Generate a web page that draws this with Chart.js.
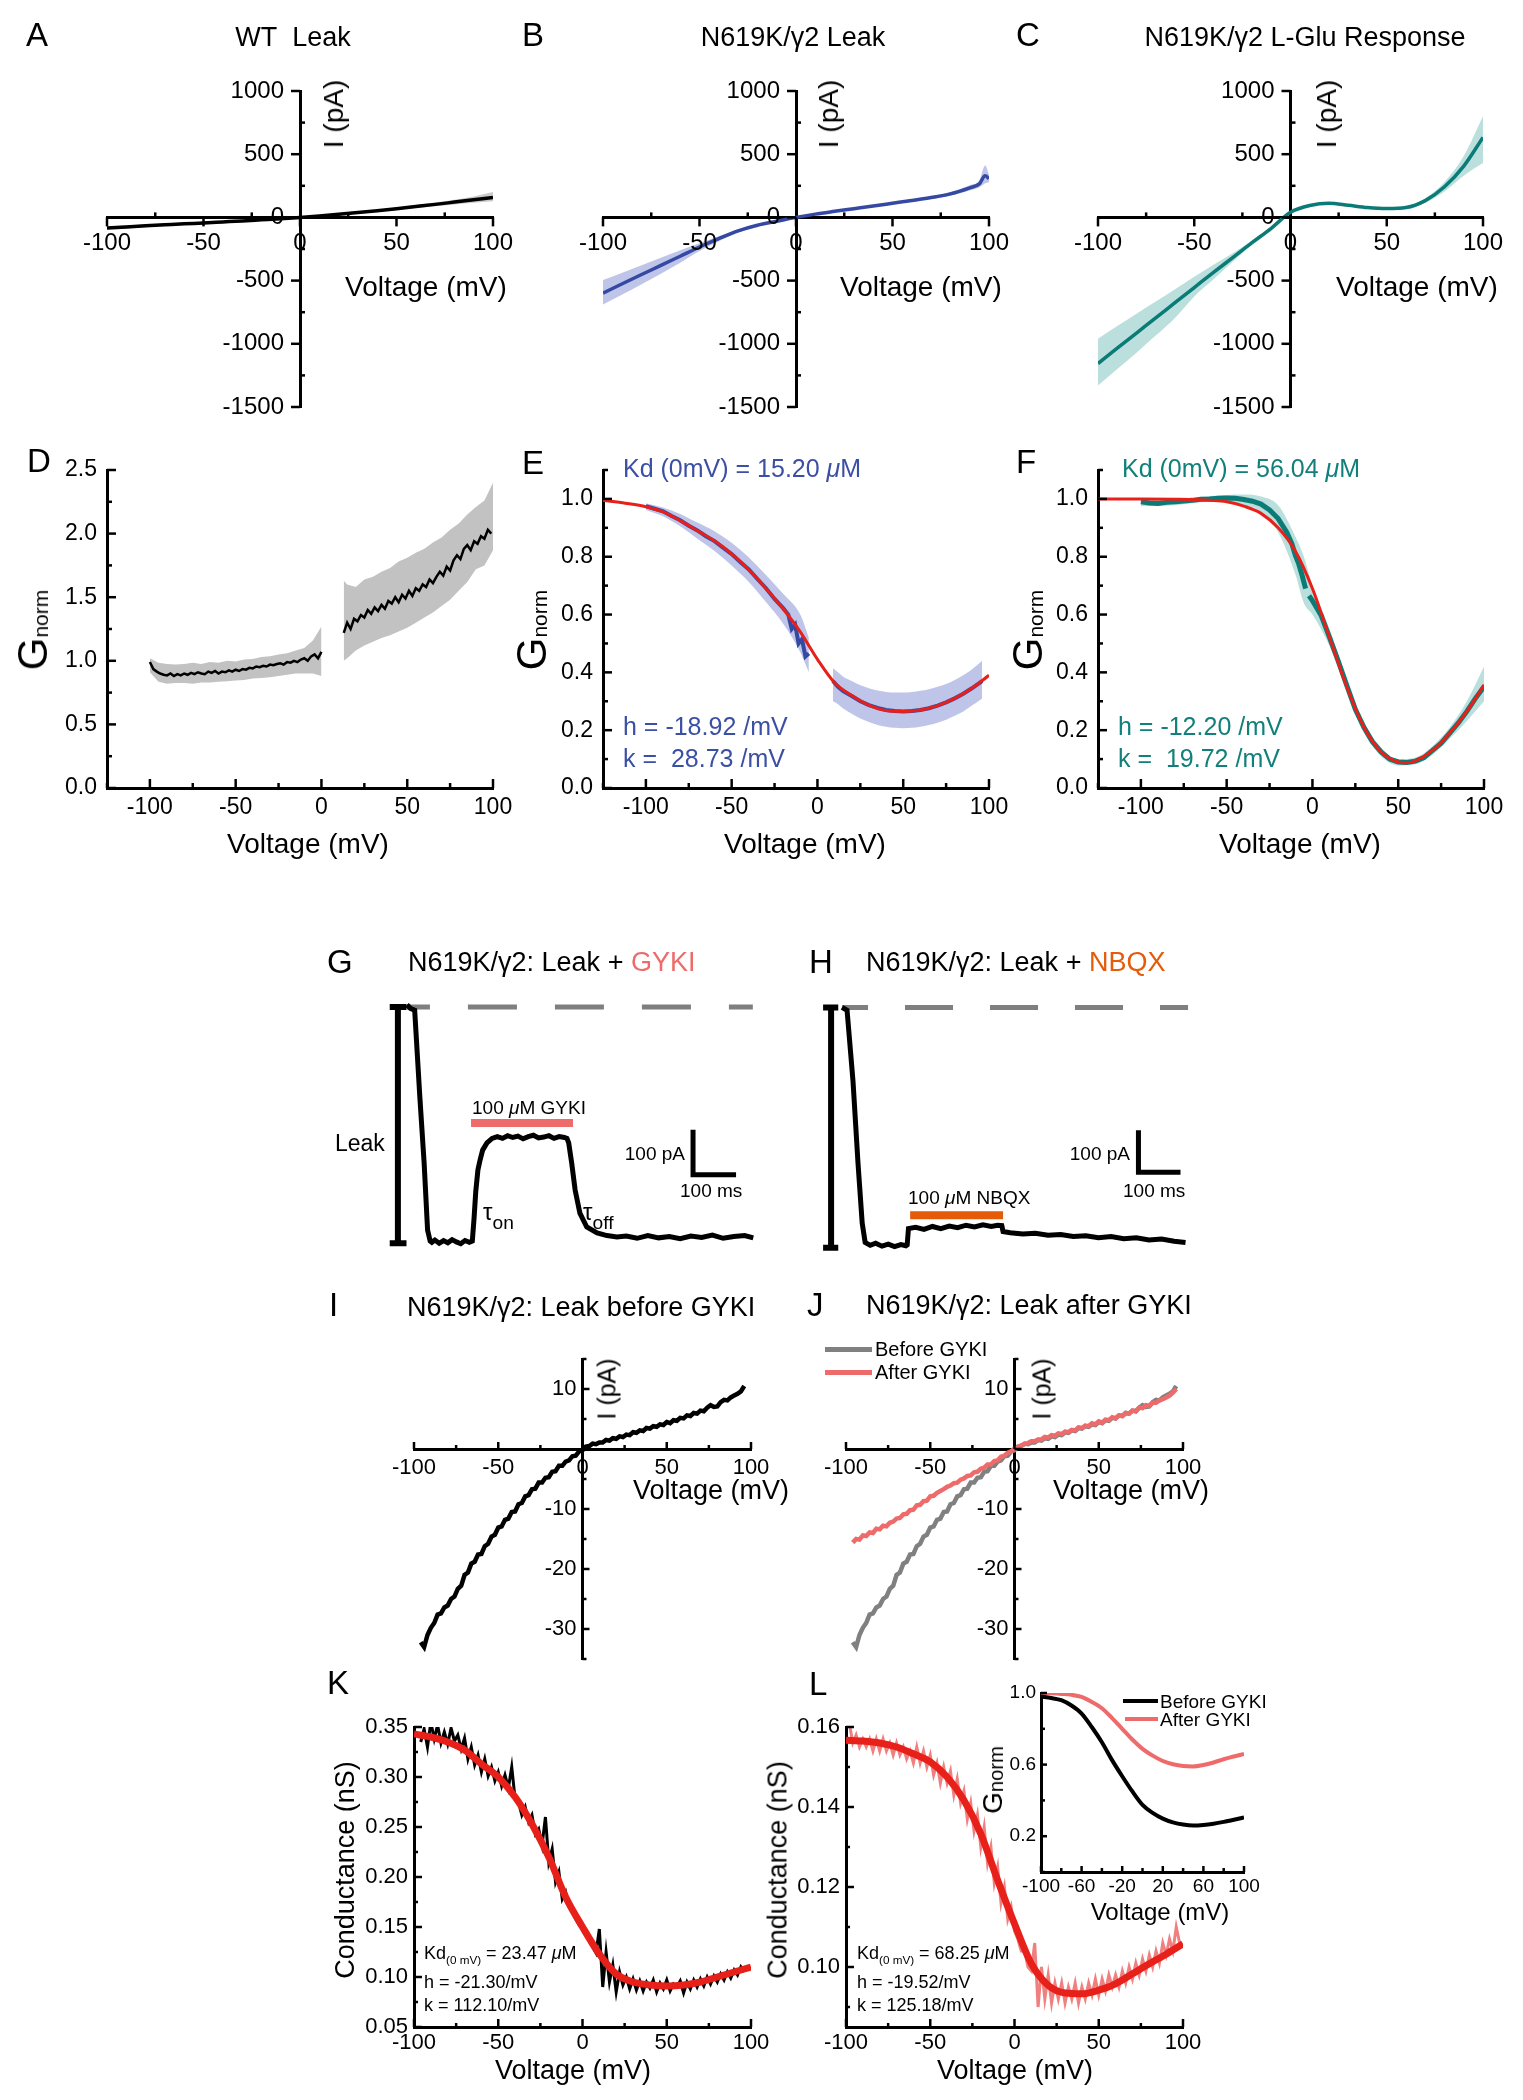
<!DOCTYPE html>
<html>
<head>
<meta charset="utf-8">
<title>N619K leak figure</title>
<script src="https://cdn.jsdelivr.net/npm/chart.js@4.4.1/dist/chart.umd.min.js"></script>
<style>
body { margin: 0; background: #fff; }
#page { position: relative; width: 1523px; height: 2100px; overflow: hidden;
  font-family: "Liberation Sans", Arial, Helvetica, sans-serif; color: #000; }
#page canvas { position: absolute; }
.lbl { position: absolute; white-space: nowrap; line-height: 1; }
.lbl sub { font-size: 0.62em; vertical-align: -0.35em; line-height: 0; }
.key { position: absolute; }
</style>
</head>
<body>
<div id="page"></div>
<script>
const FONT = '"Liberation Sans", Arial, Helvetica, sans-serif';

// voltage grid helper (sample positions only)
function steps(a, b, s) { const r = []; for (let v = a; v <= b + 1e-9; v += s) r.push(v); return r; }

// ---------- A / B / C : I-V relations (pA) ----------
const ivV = [-100,-90,-80,-70,-60,-50,-40,-30,-20,-10,0,10,20,30,40,50,60,70,80,90,100];
const aMean = [-83,-75,-67,-59,-51,-44,-36,-28,-19,-10,0,11,24,38,53,69,86,103,121,139,158];
const aHi = [-70,-63,-56,-49,-42,-36,-29,-21,-13,-6,3,15,29,44,60,79,98,118,140,165,200];
const aLo = [-96,-87,-78,-69,-60,-52,-43,-35,-25,-14,-3,7,19,32,46,59,74,88,102,116,128];

const bV = [-100,-90,-80,-70,-60,-50,-40,-30,-20,-10,0,10,20,30,40,50,60,70,80,90,95,98,100];
const bMean = [-599,-525,-452,-380,-307,-234,-168,-107,-62,-31,0,26,48,69,90,112,134,157,186,234,265,330,307];
const bHi = [-495,-437,-378,-320,-260,-204,-150,-96,-55,-26,4,31,53,75,97,120,143,168,200,255,292,410,340];
const bLo = [-690,-610,-528,-445,-358,-266,-188,-120,-70,-36,-4,21,43,63,83,104,125,146,172,212,238,270,278];

const cMean = [-1156,-1035,-915,-795,-675,-555,-435,-318,-200,-86,40,94,112,96,78,70,78,133,242,406,633];
const cHi = [-960,-860,-762,-665,-568,-470,-375,-283,-185,-78,46,100,119,103,85,77,87,150,280,485,800];
const cLo = [-1330,-1200,-1070,-935,-795,-625,-490,-350,-215,-94,34,88,105,89,71,63,69,116,205,330,430];

// ---------- D : WT normalised conductance ----------
const dLV = steps(-100, 0, 2);
const dL = [0.99,0.935,0.915,0.9,0.89,0.885,0.9,0.88,0.895,0.885,0.9,0.89,0.905,0.895,0.91,0.9,0.895,0.915,0.905,0.92,
  0.9,0.915,0.91,0.925,0.915,0.93,0.92,0.935,0.93,0.945,0.94,0.955,0.95,0.96,0.955,0.97,0.965,0.975,0.98,0.97,
  0.99,0.985,1.0,0.99,1.01,1.02,1.0,1.035,1.05,1.02,1.07];
const dRV = steps(13, 99, 2);
const dR = [1.22,1.3,1.25,1.33,1.31,1.36,1.34,1.4,1.37,1.42,1.39,1.44,1.41,1.47,1.45,1.5,1.46,1.52,1.49,1.55,
  1.51,1.57,1.55,1.6,1.58,1.64,1.61,1.66,1.7,1.67,1.74,1.71,1.79,1.83,1.8,1.88,1.91,1.87,1.94,1.92,1.98,1.96,2.03,2.0];
const dBLV = steps(-100, 0, 5);
const dBLHi = [1.02,0.985,0.975,0.97,0.975,0.985,0.975,0.99,0.985,1.0,0.995,1.01,1.015,1.03,1.035,1.05,1.06,1.08,1.1,1.16,1.27];
const dBLLo = [0.91,0.835,0.82,0.825,0.825,0.82,0.83,0.83,0.835,0.84,0.845,0.85,0.86,0.865,0.87,0.88,0.89,0.9,0.9,0.9,0.88];
const dBRV = [13,15,20,25,30,35,40,45,50,55,60,65,70,75,80,85,90,95,100];
const dBRHi = [1.63,1.6,1.58,1.64,1.66,1.7,1.73,1.78,1.81,1.85,1.88,1.93,1.97,2.03,2.08,2.15,2.21,2.26,2.4];
const dBRLo = [1.0,1.02,1.08,1.12,1.15,1.18,1.2,1.23,1.26,1.3,1.34,1.38,1.43,1.48,1.55,1.62,1.72,1.75,1.87];

// ---------- E : N619K leak Gnorm ----------
const eFV = [-125,-112,-100,-90,-80,-70,-60,-50,-40,-30,-20,-10,0,10,20,30,40,50,60,70,80,90,100];
const eFit = [0.995,0.985,0.973,0.955,0.925,0.89,0.855,0.81,0.755,0.69,0.62,0.54,0.445,0.364,0.32,0.287,0.268,0.265,0.27,0.285,0.31,0.345,0.39];
const eDV1 = [-100,-95,-90,-85,-80,-75,-70,-65,-60,-55,-50,-45,-40,-35,-30,-25,-20,-17,-15,-13,-11,-9,-7,-5];
const eD1 = [0.975,0.966,0.957,0.941,0.926,0.907,0.891,0.871,0.854,0.831,0.809,0.782,0.756,0.723,0.691,0.654,0.622,0.6,0.55,0.565,0.5,0.515,0.455,0.465];
const eBV1 = [-100,-90,-80,-70,-60,-50,-40,-30,-20,-10,-5];
const eBHi1 = [0.985,0.97,0.948,0.918,0.888,0.848,0.797,0.737,0.672,0.6,0.52];
const eBLo1 = [0.962,0.94,0.905,0.862,0.82,0.77,0.713,0.643,0.568,0.47,0.4];
const eDV2 = [9,12,15,20,25,30,35,40,45,50,55,60,65,70,75,80,85,90,96];
const eD2 = [0.37,0.35,0.335,0.318,0.3,0.287,0.277,0.27,0.266,0.265,0.266,0.27,0.276,0.285,0.296,0.31,0.326,0.345,0.37];
const eBHi2 = [0.415,0.4,0.385,0.37,0.355,0.345,0.337,0.332,0.33,0.33,0.332,0.336,0.342,0.35,0.36,0.374,0.39,0.41,0.44];
const eBLo2 = [0.3,0.29,0.275,0.257,0.24,0.228,0.218,0.212,0.208,0.207,0.208,0.212,0.218,0.226,0.236,0.25,0.265,0.285,0.31];

// ---------- F : L-Glu response Gnorm ----------
const fFV = [-125,-100,-80,-70,-60,-50,-40,-30,-20,-10,0,10,20,30,40,50,55,60,70,80,90,100];
const fFit = [1.0,1.0,0.999,0.998,0.995,0.99,0.975,0.95,0.9,0.82,0.69,0.52,0.35,0.21,0.125,0.09,0.087,0.094,0.13,0.19,0.265,0.357];
const fDV = [-100,-95,-90,-85,-80,-75,-70,-65,-60,-55,-50,-45,-40,-35,-30,-25,-20,-15,-12,-10,-8,-6,-4,-3,-2,
  0,2,5,10,15,20,25,30,35,40,45,50,55,60,65,70,75,80,85,90,95,100];
const fD = [0.99,0.986,0.984,0.988,0.99,0.993,0.995,0.999,1.0,1.002,1.003,1.002,0.998,0.992,0.982,0.962,0.932,0.885,0.845,0.805,
  0.775,0.735,0.69,null,0.665,0.648,0.628,0.598,0.52,0.44,0.355,0.272,0.21,0.16,0.125,0.1,0.09,0.088,0.093,0.105,
  0.13,0.155,0.19,0.225,0.265,0.31,0.35];
const fBV = [-100,-80,-60,-40,-30,-20,-10,-5,0,10,20,30,40,50,60,70,80,90,100];
const fBHi = [1.0,1.0,1.01,1.015,1.008,0.978,0.87,0.8,0.7,0.55,0.375,0.228,0.14,0.1,0.105,0.145,0.21,0.3,0.42];
const fBLo = [0.975,0.978,0.99,0.978,0.956,0.885,0.74,0.64,0.6,0.49,0.335,0.192,0.11,0.078,0.082,0.115,0.17,0.232,0.3];

// ---------- G / H : current traces (ms, pA) ----------
const gT = [0,8,18,30,40,48,54,58,65,75,85,95,105,115,125,135,145,152,156,160,165,170,176,186,198,210,222,234,246,258,
  270,282,294,306,318,330,342,354,366,372,376,383,391,402,418,442,465,488,510,535,560,585,610,635,660,685,710,735,760,785,805];
const gI = [5,-3,-7,-200,-347,-496,-520,-523,-518,-525,-519,-524,-517,-522,-526,-519,-523,-520,-470,-410,
  -362,-340,-318,-302,-292,-288,-292,-286,-290,-287,-293,-288,-285,-291,-289,-286,-292,-288,-290,-292,
  -302,-347,-407,-458,-489,-502,-508,-511,-509,-514,-508,-513,-510,-515,-509,-512,-507,-514,-510,-508,-513];
const hT = [0,12,26,38,48,55,67,80,95,110,125,140,152,155,158,175,195,215,235,255,275,295,315,335,355,370,380,383,400,430,
  460,490,520,550,580,610,640,670,700,730,760,790,817];
const hI = [0,-7,-174,-371,-514,-560,-567,-562,-569,-564,-570,-565,-568,-566,-527,-524,-529,-522,-527,-521,
  -525,-519,-523,-518,-522,-519,-520,-534,-537,-540,-538,-543,-541,-546,-544,-549,-546,-551,-549,-554,-552,-557,-560];

// ---------- I / J : single-cell I-V (pA) ----------
const iV = steps(-96, 96, 2);
const iI = [-32.2,-33.0,-31.0,-29.8,-29.0,-27.6,-27.4,-26.4,-26.1,-25.0,
  -24.6,-23.3,-22.8,-21.0,-20.6,-19.1,-18.8,-17.6,-17.5,-16.2,
  -15.8,-14.6,-14.3,-13.1,-12.9,-11.8,-11.6,-10.5,-10.4,-9.2,
  -9.0,-7.9,-7.7,-6.7,-6.6,-5.6,-5.6,-4.8,-4.7,-3.8,
  -3.7,-2.8,-2.8,-2.1,-1.9,-1.2,-1.1,-0.4,-0.2,0.4,
  0.5,0.9,0.8,1.1,1.1,1.5,1.4,1.8,1.7,2.1,
  2.0,2.4,2.3,2.8,2.7,3.1,3.0,3.5,3.4,3.8,
  3.7,4.1,4.0,4.5,4.3,4.8,4.7,5.2,5.1,5.6,
  5.5,6.0,5.9,6.4,6.3,6.9,7.3,7.0,7.1,7.8,
  8.2,8.1,8.6,8.9,9.2,9.6,10.5];
const jA = [-15.6,-15.0,-15.1,-14.4,-14.5,-13.9,-14.0,-13.3,-13.4,-12.8,
  -12.9,-12.3,-12.1,-11.6,-11.5,-10.9,-10.8,-10.2,-10.1,-9.4,
  -9.3,-8.7,-8.6,-7.9,-7.8,-7.3,-7.0,-6.7,-6.3,-6.1,
  -5.7,-5.6,-5.1,-4.9,-4.5,-4.4,-3.9,-3.8,-3.3,-3.1,
  -2.6,-2.6,-2.0,-1.9,-1.3,-1.1,-0.6,-0.4,0.1,0.3,
  0.6,0.8,1.0,1.3,1.3,1.6,1.6,2.0,1.9,2.3,
  2.2,2.6,2.5,2.9,2.8,3.2,3.1,3.6,3.5,3.9,
  3.8,4.3,4.1,4.6,4.4,4.9,4.8,5.3,5.1,5.6,
  5.5,6.0,5.9,6.4,6.3,6.9,6.8,7.3,7.2,7.7,
  7.7,8.1,8.3,8.6,8.9,9.4,10.0];

// ---------- K / L : conductance (nS) ----------
const kV = steps(-96, 96, 2);
const kD = [0.335,0.348,0.33,0.355,0.338,0.352,0.334,0.345,0.333,0.349,
  0.336,0.342,0.328,0.339,0.318,0.33,0.312,0.322,0.305,0.318,
  0.301,0.31,0.296,0.305,0.291,0.302,0.289,0.31,0.278,0.275,
  0.262,0.27,0.255,0.262,0.243,0.248,0.232,0.26,0.215,0.228,
  0.195,0.205,0.178,0.185,0.17,0.165,0.158,0.152,0.148,0.142,
  0.136,0.13,0.124,0.148,0.09,0.125,0.095,0.112,0.085,0.105,
  0.092,0.1,0.088,0.098,0.087,0.096,0.086,0.095,0.089,0.097,
  0.085,0.094,0.088,0.097,0.086,0.093,0.09,0.096,0.084,0.095,
  0.088,0.097,0.09,0.098,0.091,0.1,0.093,0.101,0.095,0.103,
  0.097,0.105,0.099,0.107,0.102,0.11,0.105];
const kFit = [0.343,0.34,0.335,0.327,0.313,0.3,0.28,0.253,0.22,0.18,0.15,0.123,0.103,0.095,0.092,0.091,0.092,0.095,0.1,0.105,0.11];
const lV = steps(-98, 98, 2);
const lD = [0.161,0.156,0.158,0.155,0.157,0.155,0.157,0.154,0.157,0.154,
  0.157,0.154,0.156,0.153,0.156,0.153,0.155,0.152,0.154,0.151,
  0.155,0.151,0.154,0.15,0.153,0.148,0.151,0.146,0.15,0.146,
  0.149,0.143,0.147,0.141,0.144,0.137,0.141,0.134,0.138,0.13,
  0.135,0.126,0.13,0.121,0.125,0.116,0.12,0.112,0.115,0.109,
  0.107,0.104,0.104,0.1,0.099,0.106,0.09,0.1,0.092,0.098,
  0.091,0.096,0.092,0.096,0.091,0.095,0.092,0.096,0.091,0.095,
  0.092,0.096,0.093,0.097,0.093,0.097,0.094,0.098,0.095,0.098,
  0.095,0.099,0.096,0.1,0.097,0.101,0.098,0.102,0.099,0.103,
  0.1,0.104,0.101,0.106,0.103,0.107,0.104,0.11,0.106];
const lFit = [0.1567,0.1565,0.156,0.155,0.1533,0.1513,0.1475,0.1417,0.1333,0.1217,0.1108,0.1008,0.0954,0.0935,0.0933,0.0942,0.0958,0.0983,0.1008,0.1032,0.1058];
const insBefore = [0.98,0.972,0.96,0.93,0.885,0.81,0.725,0.625,0.535,0.45,0.375,0.33,0.298,0.277,0.265,0.26,0.263,0.27,0.28,0.292,0.305];
const insAfter = [1.0,0.998,0.995,0.99,0.978,0.95,0.915,0.86,0.8,0.74,0.688,0.65,0.62,0.602,0.592,0.59,0.598,0.612,0.63,0.645,0.66];

// ---------- tick values ----------
const vTicks = [-100,-50,0,50,100];
const ivTicks = [-1500,-1000,-500,0,500,1000];
const dTicks = [0,0.5,1,1.5,2,2.5];
const gnTicks = [0,0.2,0.4,0.6,0.8,1];
const ijTicks = [-30,-20,-10,0,10];
const kTicks = [0.05,0.1,0.15,0.2,0.25,0.3,0.35];
const lTicks = [0.1,0.12,0.14,0.16];
const insXTicks = [-100,-60,-20,20,60,100];
const insYTicks = [0.2,0.6,1];

// colours
const BLUE = '#3549A4', BLUE_BAND = 'rgba(70,88,190,0.35)';
const TEAL = '#0B7B77', TEAL_BAND = 'rgba(25,150,140,0.3)';
const RED = '#E8201A', SALMON = '#EE6B6B', SALMON2 = '#F08080', NBQX = '#E45C0A';

const page = document.getElementById('page');

function txt(x, y, html, size, align, o) {
  o = o || {};
  const d = document.createElement('div');
  d.className = 'lbl';
  d.innerHTML = html;
  d.style.left = x + 'px';
  d.style.top = y + 'px';
  d.style.fontSize = size + 'px';
  if (o.color) d.style.color = o.color;
  const ax = align === 'center' ? '-50%' : align === 'right' ? '-100%' : '0';
  d.style.transform = 'translate(' + ax + ',-50%)' + (o.rot ? ' rotate(-90deg)' : '');
  page.appendChild(d);
}
function key(x1, x2, y, color, w) {
  const d = document.createElement('div');
  d.className = 'key';
  d.style.left = x1 + 'px';
  d.style.top = (y - w / 2) + 'px';
  d.style.width = (x2 - x1) + 'px';
  d.style.height = w + 'px';
  d.style.background = color;
  page.appendChild(d);
}

const pts = (xs, ys) => xs.map((x, i) => ({x: x, y: ys[i]}));
function line(xs, ys, color, width, extra) {
  return Object.assign({data: pts(xs, ys), borderColor: color, borderWidth: width, pointRadius: 0,
    fill: false, tension: 0, spanGaps: false}, extra || {});
}
const smooth = {cubicInterpolationMode: 'monotone'};
function band(xs, hi, lo, color, sm) {
  const c = {pointRadius: 0, borderWidth: 0, borderColor: 'rgba(0,0,0,0)', tension: 0};
  if (sm) c.cubicInterpolationMode = 'monotone';
  return [Object.assign({data: pts(xs, hi), fill: '+1', backgroundColor: color}, c),
          Object.assign({data: pts(xs, lo), fill: false}, c)];
}

// ticks (major + minor) and tick labels drawn on the library's scales
function tickPlugin(ax) {
  return {
    id: 'ticks2',
    afterDraw(chart) {
      const ctx = chart.ctx, ca = chart.chartArea;
      ['x', 'y'].forEach(k => {
        const a = ax[k], s = chart.scales[k], hz = k === 'x';
        const other = hz ? chart.scales.y : chart.scales.x;
        const base = a.at != null ? other.getPixelForValue(a.at) : (hz ? ca.bottom : ca.left);
        const step = a.ticks[1] - a.ticks[0];
        const minors = [];
        for (let v = a.ticks[0] - step / 2; v <= s.max + 1e-9; v += step) {
          if (v >= s.min - 1e-9) minors.push(v);
        }
        ctx.save();
        ctx.strokeStyle = '#000';
        ctx.lineWidth = 2.5;
        const mark = (v, len, dir) => {
          const p = s.getPixelForValue(v);
          ctx.beginPath();
          if (hz) { ctx.moveTo(p, base); ctx.lineTo(p, base + dir * len); }
          else { ctx.moveTo(base, p); ctx.lineTo(base - dir * len, p); }
          ctx.stroke();
        };
        minors.forEach(v => mark(v, a.minor[0], a.minor[1]));
        a.ticks.forEach(v => mark(v, a.major[0], a.major[1]));
        ctx.fillStyle = '#000';
        ctx.font = a.size + 'px ' + FONT;
        ctx.textBaseline = 'middle';
        ctx.textAlign = hz ? 'center' : 'right';
        a.ticks.forEach(v => {
          if (a.skip && a.skip.includes(v)) return;
          const p = s.getPixelForValue(v);
          const t = v.toFixed(a.dec || 0);
          if (hz) ctx.fillText(t, p, base + a.off);
          else ctx.fillText(t, base - a.off, p);
        });
        ctx.restore();
      });
    }
  };
}

function mkChart(area, xr, yr, datasets, ax) {
  const M = 70;
  const c = document.createElement('canvas');
  c.width = area[2] - area[0] + 2 * M;
  c.height = area[3] - area[1] + 2 * M;
  c.style.left = (area[0] - M) + 'px';
  c.style.top = (area[1] - M) + 'px';
  page.appendChild(c);
  const sc = (r, pos) => ({
    type: 'linear', min: r[0], max: r[1], position: pos, display: !!ax,
    ticks: {display: false}, grid: {display: false, drawTicks: false},
    border: {display: true, width: 3, color: '#000'}
  });
  return new Chart(c, {
    type: 'line',
    data: {datasets: datasets},
    options: {
      responsive: false, animation: false, events: [], devicePixelRatio: 1,
      layout: {padding: M},
      plugins: {legend: {display: false}, tooltip: {enabled: false}},
      scales: {
        x: sc(xr, ax && ax.x.at != null ? {y: ax.x.at} : 'bottom'),
        y: sc(yr, ax && ax.y.at != null ? {x: ax.y.at} : 'left')
      }
    },
    plugins: ax ? [tickPlugin(ax)] : []
  });
}

// ---------- axis specs ----------
const axIV = {
  x: {at: 0, ticks: vTicks, major: [9, 1], minor: [5, -1], size: 24, off: 26, dec: 0},
  y: {at: 0, ticks: ivTicks, major: [9, 1], minor: [5, -1], size: 24, off: 16, dec: 0}
};
const axGn = yt => ({
  x: {at: null, ticks: vTicks, major: [9, -1], minor: [5, -1], size: 23, off: 20, dec: 0},
  y: {at: null, ticks: yt, major: [9, -1], minor: [5, -1], size: 23, off: 10, dec: 1}
});
const axIJ = {
  x: {at: 0, ticks: vTicks, major: [7, -1], minor: [4, -1], size: 22, off: 19, dec: 0},
  y: {at: 0, ticks: ijTicks, major: [7, -1], minor: [4, -1], size: 22, off: 6, dec: 0, skip: [0]}
};
const axG = yt => ({
  x: {at: null, ticks: vTicks, major: [8, -1], minor: [4, -1], size: 22, off: 16, dec: 0},
  y: {at: null, ticks: yt, major: [8, -1], minor: [4, -1], size: 22, off: 6, dec: 2}
});
const axIns = {
  x: {at: null, ticks: insXTicks, major: [6, -1], minor: [4, -1], size: 19, off: 15, dec: 0},
  y: {at: null, ticks: insYTicks, major: [6, -1], minor: [4, -1], size: 19, off: 5, dec: 1}
};

// ---------- row 1 ----------
mkChart([107, 91, 493, 407], [-100, 100], [-1500, 1000],
  [line(ivV, aMean, '#000', 3.5, smooth)].concat(band(ivV, aHi, aLo, 'rgba(140,140,140,0.45)', true)), axIV);
mkChart([603, 91, 989, 407], [-100, 100], [-1500, 1000],
  [line(bV, bMean, BLUE, 3.5, smooth)].concat(band(bV, bHi, bLo, BLUE_BAND, true)), axIV);
mkChart([1098, 91, 1483, 407], [-100, 100], [-1500, 1000],
  [line(ivV, cMean, TEAL, 3.5, smooth)].concat(band(ivV, cHi, cLo, TEAL_BAND, true)), axIV);

// ---------- row 2 ----------
mkChart([107, 470, 493, 788], [-125, 100], [0, 2.5],
  [line(dLV, dL, '#000', 2.5), line(dRV, dR, '#000', 2.5)]
    .concat(band(dBLV, dBLHi, dBLLo, '#C2C2C2'), band(dBRV, dBRHi, dBRLo, '#C2C2C2')), axGn(dTicks));
mkChart([603, 470, 989, 788], [-125, 100], [0, 1.1],
  [line(eFV, eFit, RED, 3, smooth), line(eDV1, eD1, BLUE, 4), line(eDV2, eD2, BLUE, 4)]
    .concat(band(eBV1, eBHi1, eBLo1, BLUE_BAND, true), band(eDV2, eBHi2, eBLo2, BLUE_BAND, true)), axGn(gnTicks));
mkChart([1098, 470, 1484, 788], [-125, 100], [0, 1.1],
  [line(fFV, fFit, RED, 3, smooth), line(fDV, fD, TEAL, 5)]
    .concat(band(fBV, fBHi, fBLo, TEAL_BAND, true)), axGn(gnTicks));

// ---------- row 3 : traces ----------
mkChart([388, 998, 758, 1259], [-44, 816], [-560, 20], [
  line(gT, gI, '#000', 5),
  line([0, 804], [0, 0], '#7F7F7F', 5, {borderDash: [49, 38], borderDashOffset: 26}),
  line([-40, -1, -21, -21, -21, -21, -40, -1], [0, 0, null, 0, -525, null, -525, -525], '#000', 6),
  line([149, 386], [-258, -258], SALMON, 8),
  line([665, 665, 765], [-273, -373, -373], '#000', 5, {borderJoinStyle: 'miter'})
], null);
mkChart([821, 999, 1191, 1255], [-50, 830], [-590, 20], [
  line(hT, hI, '#000', 5),
  line([0, 823], [0, 0], '#7F7F7F', 5, {borderDash: [48, 37], borderDashOffset: 22}),
  line([-45, -9, -26, -26, -26, -26, -45, -9], [0, 0, null, 0, -573, null, -573, -573], '#000', 6),
  line([162, 383], [-495, -495], NBQX, 8),
  line([705, 705, 805], [-293, -393, -393], '#000', 5, {borderJoinStyle: 'miter'})
], null);

// ---------- row 4 ----------
mkChart([414, 1359, 751, 1659], [-100, 100], [-35, 15], [line(iV, iI, '#000', 4.5)], axIJ);
mkChart([846, 1359, 1183, 1659], [-100, 100], [-35, 15],
  [line(iV, jA, SALMON, 4.5), line(iV, iI, '#808080', 4.5)], axIJ);

// ---------- row 5 ----------
mkChart([414, 1727, 751, 2027], [-100, 100], [0.05, 0.35],
  [line(ivV, kFit, RED, 7, smooth), line(kV, kD, '#000', 3)], axG(kTicks));
mkChart([846, 1727, 1183, 2027], [-100, 100], [0.085, 0.16],
  [line(ivV, lFit, RED, 7, smooth), line(lV, lD, SALMON2, 3)], axG(lTicks));
mkChart([1041, 1693, 1244, 1872], [-100, 100], [0, 1],
  [line(ivV, insBefore, '#000', 4, smooth), line(ivV, insAfter, SALMON, 4, smooth)], axIns);

// ---------- text ----------
const G = s => 'G<sub style="font-size:' + s + ';vertical-align:-0.04em">norm</sub>';
const mu = '<i>&mu;</i>';
const LET = 33;

txt(26, 34, 'A', LET, 'left');
txt(522, 34, 'B', LET, 'left');
txt(1016, 34, 'C', LET, 'left');
txt(293, 37, 'WT&nbsp; Leak', 27, 'center');
txt(793, 37, 'N619K/&gamma;2 Leak', 27, 'center');
txt(1305, 37, 'N619K/&gamma;2 L-Glu Response', 27, 'center');
[334, 829, 1327].forEach(x => txt(x, 114, 'I (pA)', 28, 'center', {rot: true}));
[345, 840, 1336].forEach(x => txt(x, 287, 'Voltage (mV)', 28, 'left'));

txt(27, 460, 'D', LET, 'left');
txt(522, 462, 'E', LET, 'left');
txt(1016, 461, 'F', LET, 'left');
[33, 532, 1028].forEach(x => txt(x, 630, G('0.5em'), 42, 'center', {rot: true}));
[308, 805, 1300].forEach(x => txt(x, 844, 'Voltage (mV)', 28, 'center'));
txt(623, 468, 'Kd (0mV) = 15.20 ' + mu + 'M', 25, 'left', {color: '#3B4FA5'});
txt(623, 726, 'h = -18.92 /mV', 25, 'left', {color: '#3B4FA5'});
txt(623, 758, 'k =&nbsp; 28.73 /mV', 25, 'left', {color: '#3B4FA5'});
txt(1122, 468, 'Kd (0mV) = 56.04 ' + mu + 'M', 25, 'left', {color: '#12807A'});
txt(1118, 726, 'h = -12.20 /mV', 25, 'left', {color: '#12807A'});
txt(1118, 758, 'k =&nbsp; 19.72 /mV', 25, 'left', {color: '#12807A'});

txt(327, 961, 'G', LET, 'left');
txt(408, 962, 'N619K/&gamma;2: Leak + <span style="color:' + SALMON + '">GYKI</span>', 27, 'left');
txt(809, 961, 'H', LET, 'left');
txt(866, 962, 'N619K/&gamma;2: Leak + <span style="color:' + NBQX + '">NBQX</span>', 27, 'left');
txt(335, 1143, 'Leak', 23, 'left');
txt(472, 1107, '100 ' + mu + 'M GYKI', 19, 'left');
txt(685, 1153, '100 pA', 19, 'right');
txt(680, 1190, '100 ms', 19, 'left');
txt(483, 1212, '&tau;<sub style="font-size:0.8em;vertical-align:-0.45em">on</sub>', 24, 'left');
txt(583, 1212, '&tau;<sub style="font-size:0.8em;vertical-align:-0.45em">off</sub>', 24, 'left');
txt(908, 1197, '100 ' + mu + 'M NBQX', 19, 'left');
txt(1130, 1153, '100 pA', 19, 'right');
txt(1123, 1190, '100 ms', 19, 'left');

txt(329, 1304, 'I', LET, 'left');
txt(407, 1307, 'N619K/&gamma;2: Leak before GYKI', 27, 'left');
txt(807, 1304, 'J', LET, 'left');
txt(866, 1305, 'N619K/&gamma;2: Leak after GYKI', 27, 'left');
txt(607, 1389, 'I (pA)', 25, 'center', {rot: true});
txt(1042, 1389, 'I (pA)', 25, 'center', {rot: true});
txt(633, 1490, 'Voltage (mV)', 27, 'left');
txt(1053, 1490, 'Voltage (mV)', 27, 'left');
key(825, 872, 1349, '#808080', 5);
key(825, 872, 1372, SALMON, 5);
txt(875, 1349, 'Before GYKI', 20, 'left');
txt(875, 1372, 'After GYKI', 20, 'left');

txt(327, 1682, 'K', LET, 'left');
txt(809, 1683, 'L', LET, 'left');
txt(345, 1870, 'Conductance (nS)', 27, 'center', {rot: true});
txt(778, 1870, 'Conductance (nS)', 27, 'center', {rot: true});
txt(573, 2070, 'Voltage (mV)', 27, 'center');
txt(1015, 2070, 'Voltage (mV)', 27, 'center');
const kd = 'Kd<sub style="font-size:0.65em;vertical-align:-0.4em">(0 mV)</sub>';
txt(424, 1953, kd + ' = 23.47 ' + mu + 'M', 18, 'left');
txt(424, 1982, 'h = -21.30/mV', 18, 'left');
txt(424, 2005, 'k = 112.10/mV', 18, 'left');
txt(857, 1953, kd + ' = 68.25 ' + mu + 'M', 18, 'left');
txt(857, 1982, 'h = -19.52/mV', 18, 'left');
txt(857, 2005, 'k = 125.18/mV', 18, 'left');
txt(993, 1780, G('0.72em'), 28, 'center', {rot: true});
txt(1160, 1912, 'Voltage (mV)', 24, 'center');
key(1123, 1158, 1701, '#000', 4);
key(1125, 1158, 1719, SALMON, 4);
txt(1160, 1701, 'Before GYKI', 19, 'left');
txt(1160, 1719, 'After GYKI', 19, 'left');
</script>
</body>
</html>
